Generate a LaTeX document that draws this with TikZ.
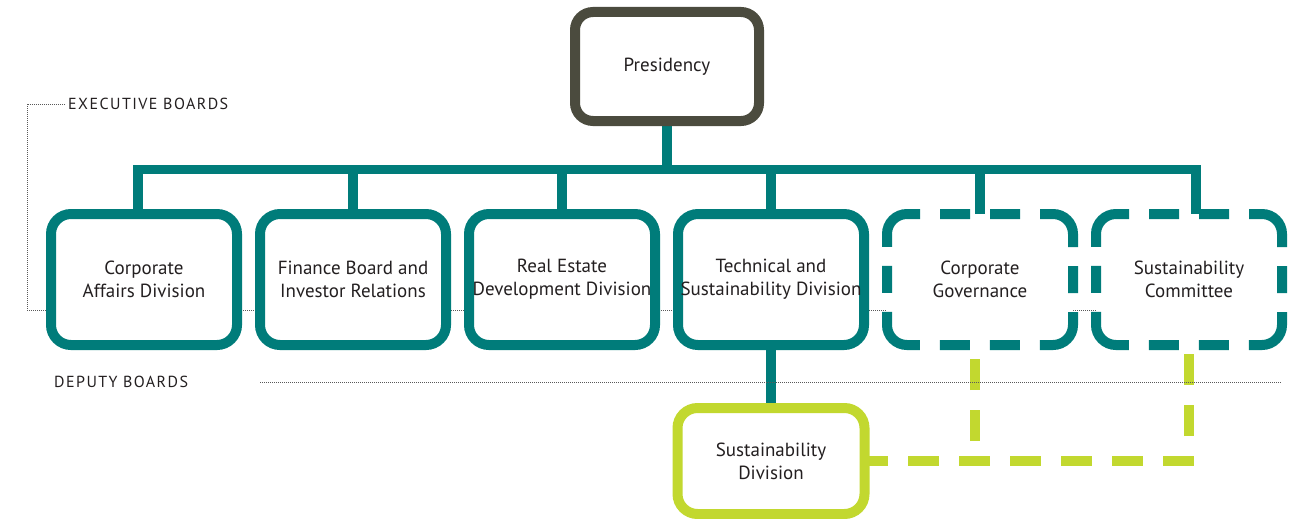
\documentclass[tikz,border=0pt]{standalone}
\usepackage{fontspec}
\setmainfont{PT Sans}
\newfontfamily\capsfont[LetterSpace=9]{PT Sans}
\usepackage{xcolor}
\usetikzlibrary{backgrounds}
\definecolor{orgteal}{RGB}{0,124,122}
\definecolor{orgdark}{RGB}{75,75,62}
\definecolor{orggreen}{RGB}{194,216,47}
\definecolor{orgtext}{RGB}{35,31,32}

\begin{document}
\begin{tikzpicture}[x=1pt,y=-1pt,
    box/.style={draw=orgteal,line width=10pt,rounded corners=20pt,fill=white,
      minimum width=186pt,minimum height=131pt,inner sep=0pt,outer sep=0pt,
      align=center,text=orgtext,font=\fontsize{19}{23}\selectfont},
    dbox/.style={box,draw=none},
    link/.style={orgteal,line width=9.5pt},
    glink/.style={orggreen,line width=10pt,dash pattern=on 31pt off 20pt},
    rule/.style={draw=black!65,line width=0.9pt,dash pattern=on 1pt off 1pt},
    tag/.style={anchor=west,inner sep=3pt,text=orgtext,font=\capsfont\fontsize{16}{18}\selectfont}]
  \useasboundingbox (0,0) rectangle (1303,519);

  % 标签
  \node[tag] (exec) at (65,104) {EXECUTIVE BOARDS};
  \node[tag] (dep) at (51,382) {DEPUTY BOARDS};
  \coordinate (ebase) at (27,310);
  \coordinate (bus) at (667,169.5);

  % 总裁
  \node[box,draw=orgdark,rounded corners=18pt,minimum width=184pt,minimum height=109pt]
    (pres) at (667,66.5) {Presidency};

  % 实线框
  \node[box] (b1) at (144,279.5) {Corporate\\Affairs Division};
  \node[box] (b2) at (353,279.5) {Finance Board and\\Investor Relations};
  \node[box] (b3) at (562,279.5) {Real Estate\\Development Division};
  \node[box] (b4) at (771,279.5) {Technical and\\Sustainability Division};
  \node[box,draw=orggreen,minimum width=187pt,minimum height=106pt]
    (sd) at (771,461) {Sustainability\\Division};

  % 虚线框
  \node[dbox] (b5) at (980,279.5) {Corporate\\Governance};
  \node[dbox] (b6) at (1189,279.5) {Sustainability\\Committee};
  \foreach \n in {b5,b6}
    \draw[orgteal,line width=10pt,rounded corners=20pt,
      dash pattern=on 30pt off 20pt on 30pt off 20pt on 57.42pt off 19pt on 27pt off 19pt on 57.42pt off 20pt]
      ([xshift=53pt]\n.north west) -- (\n.north east) -- (\n.south east)
      -- (\n.south west) -- (\n.north west) -- ([xshift=53pt]\n.north west);

  \begin{pgfonlayer}{background}
    \draw[rule] (exec.west) -| (ebase) -- (ebase -| b6.east);
    % 连线
    \draw[link] (pres.south) -- (bus);
    \draw[link] ([xshift=-6pt]b1.north) |- (bus) -| ([xshift=7pt]b6.north);
    \foreach \n in {b2,b3,b4,b5}
      \draw[link] (\n.north) -- (\n.north |- bus);
    \draw[link] (b4.south) -- (sd.north);
    % 绿色虚线
    \draw[glink,dash phase=7.5pt] (sd.east) -- (sd.east -| b6.south) -- (b6.south);
    \draw[glink,dash phase=31pt] ([xshift=-5pt]b5.south |- sd.east) -- ([xshift=-5pt]b5.south);
  \end{pgfonlayer}

  \draw[rule] (b2.west |- dep) -- (b6.east |- dep);
\end{tikzpicture}
\end{document}
